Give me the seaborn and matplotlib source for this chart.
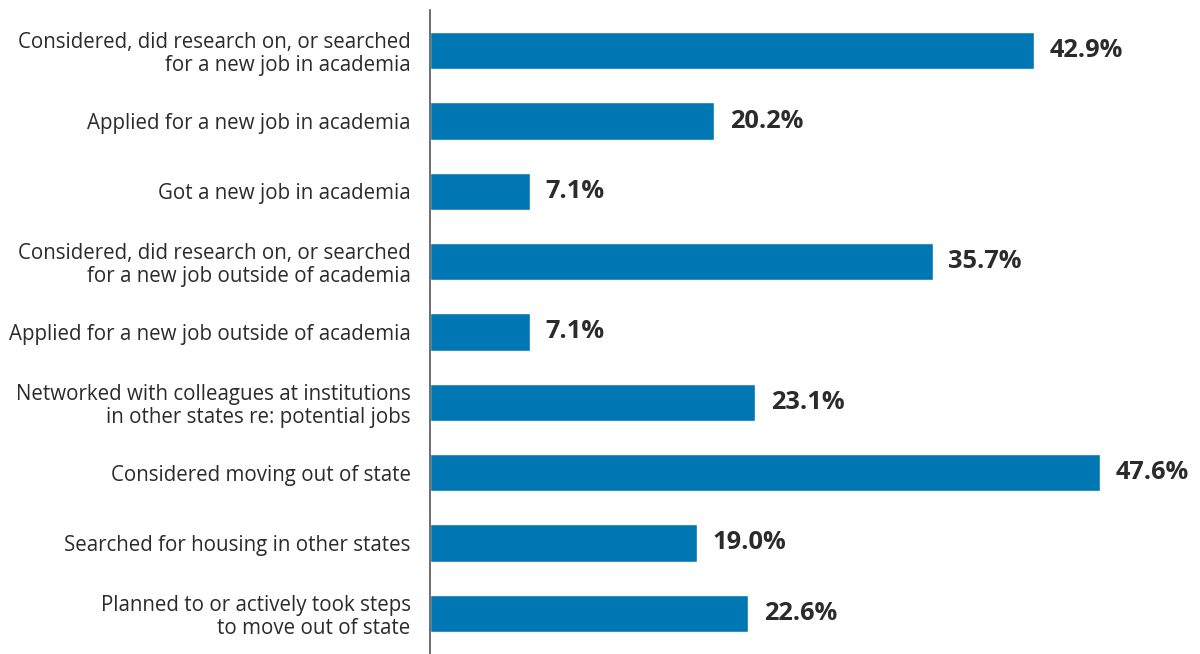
import matplotlib
matplotlib.use("Agg")
import matplotlib.pyplot as plt
import seaborn as sns
import pandas as pd

# survey responses (share of respondents, %)
categories = [
    "Considered, did research on, or searched\nfor a new job in academia",
    "Applied for a new job in academia",
    "Got a new job in academia",
    "Considered, did research on, or searched\nfor a new job outside of academia",
    "Applied for a new job outside of academia",
    "Networked with colleagues at institutions\nin other states re: potential jobs",
    "Considered moving out of state",
    "Searched for housing in other states",
    "Planned to or actively took steps\nto move out of state",
]
values = [42.9, 20.2, 7.1, 35.7, 7.1, 23.1, 47.6, 19.0, 22.6]

df = pd.DataFrame({"category": categories, "value": values})

sns.set_style("white")
plt.rcParams["font.family"] = ["Open Sans", "DejaVu Sans"]

fig = plt.figure(figsize=(12, 6.54), dpi=100)
ax = fig.add_axes([430 / 1200, 0, 1 - 430 / 1200, 644 / 654])

sns.barplot(data=df, x="value", y="category", color="#0077b3", saturation=1,
            width=0.53, ax=ax)

for i, v in enumerate(values):
    ax.text(v + 1.1, i, f"{v:.1f}%", va="center", ha="left",
            fontsize=18.3, fontweight="bold", color="#2b2b2b")

ax.set_xlim(0, 54.7)
ax.set_ylim(8.58, -0.58)
ax.set_xlabel("")
ax.set_ylabel("")
ax.set_xticks([])
ax.tick_params(axis="y", length=0, pad=14, labelsize=14.8, labelcolor="#2b2b2b")
for lbl in ax.get_yticklabels():
    lbl.set_horizontalalignment("right")
    lbl.set_multialignment("right")
    lbl.set_linespacing(1.12)

for s in ["top", "right", "bottom"]:
    ax.spines[s].set_visible(False)
ax.spines["left"].set_color("#555555")
ax.spines["left"].set_linewidth(1.2)

fig.savefig("out.png", dpi=100)
